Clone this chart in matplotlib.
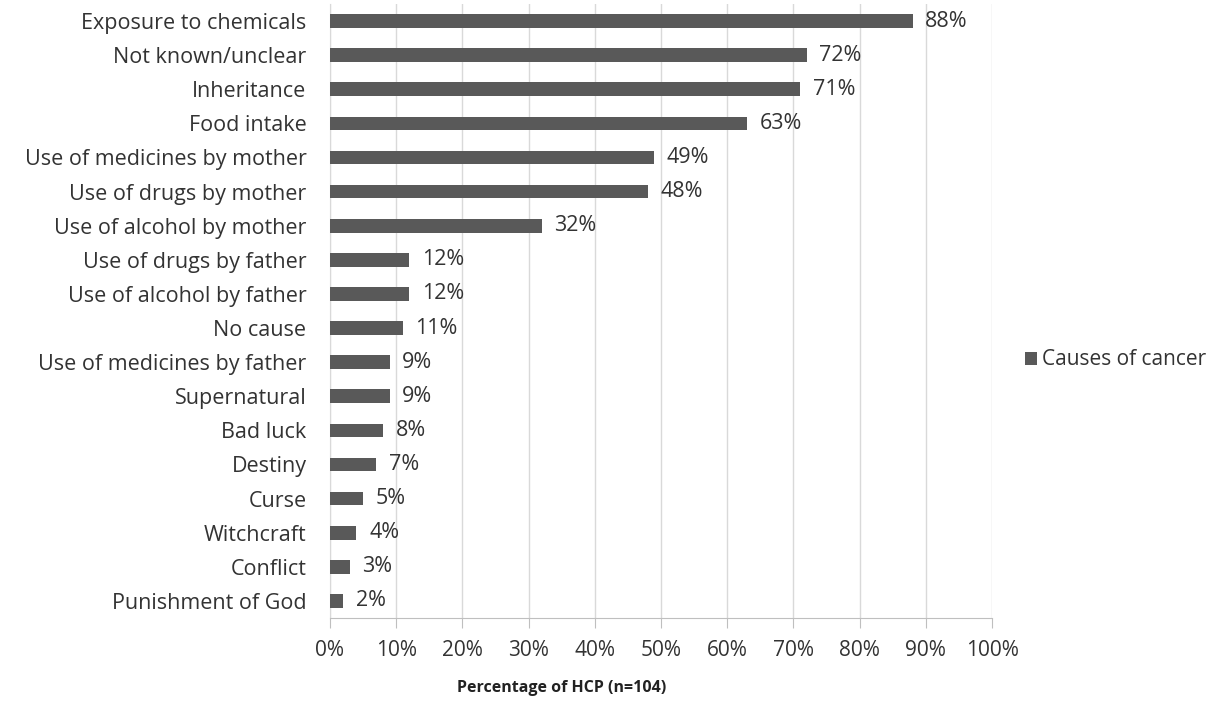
import matplotlib
matplotlib.use("Agg")
import matplotlib.pyplot as plt
from matplotlib.ticker import FuncFormatter, MultipleLocator

categories = [
    "Exposure to chemicals", "Not known/unclear", "Inheritance", "Food intake",
    "Use of medicines by mother", "Use of drugs by mother", "Use of alcohol by mother",
    "Use of drugs by father", "Use of alcohol by father", "No cause",
    "Use of medicines by father", "Supernatural", "Bad luck", "Destiny",
    "Curse", "Witchcraft", "Conflict", "Punishment of God",
]
values = [88, 72, 71, 63, 49, 48, 32, 12, 12, 11, 9, 9, 8, 7, 5, 4, 3, 2]
series_name = "Causes of cancer"
x_label = "Percentage of HCP (n=104)"

plt.rcParams['font.family'] = ['Open Sans', 'DejaVu Sans']
fig = plt.figure(figsize=(12.24, 7.02), dpi=100)
ax = fig.add_axes([330/1224, 1-618/702, (992-330)/1224, (618-4)/702])

n = len(categories)
ypos = list(range(n))
bars = ax.barh(ypos, values, height=0.4, color="#595959", label=series_name, zorder=3)
ax.set_ylim(n - 0.5, -0.5)
ax.set_xlim(0, 100)
ax.set_yticks(ypos)
ax.set_yticklabels(categories, fontsize=15.5, color="#333333")
ax.xaxis.set_major_locator(MultipleLocator(10))
ax.xaxis.set_major_formatter(FuncFormatter(lambda v, p: f"{int(v)}%"))
ax.tick_params(axis='x', labelsize=15, colors="#333333", length=7, color="#bfbfbf", pad=9)
ax.tick_params(axis='y', length=0, pad=17)
ax.grid(axis='x', color="#d9d9d9", linewidth=1, zorder=0)
for s in ['top', 'right']:
    ax.spines[s].set_visible(False)
ax.spines['left'].set_color("#d9d9d9")
ax.spines['bottom'].set_color("#bfbfbf")

for yi, v in zip(ypos, values):
    ax.text(v + 1.9, yi, f"{v}%", va='center', ha='left', fontsize=15.5, color="#333333")

fig.text(562/1224, 1-688/702, x_label, ha='center', va='center',
         fontsize=11.5, fontweight='bold', color="#222222")

leg = fig.legend(handles=[bars], labels=[series_name], loc='center left',
                 bbox_to_anchor=(1006/1224, 1-360/702), frameon=False, fontsize=15,
                 handlelength=0.6, handleheight=0.6, handletextpad=0.25)
for t in leg.get_texts():
    t.set_color("#333333")

fig.savefig("out.png", dpi=100, facecolor="white")
